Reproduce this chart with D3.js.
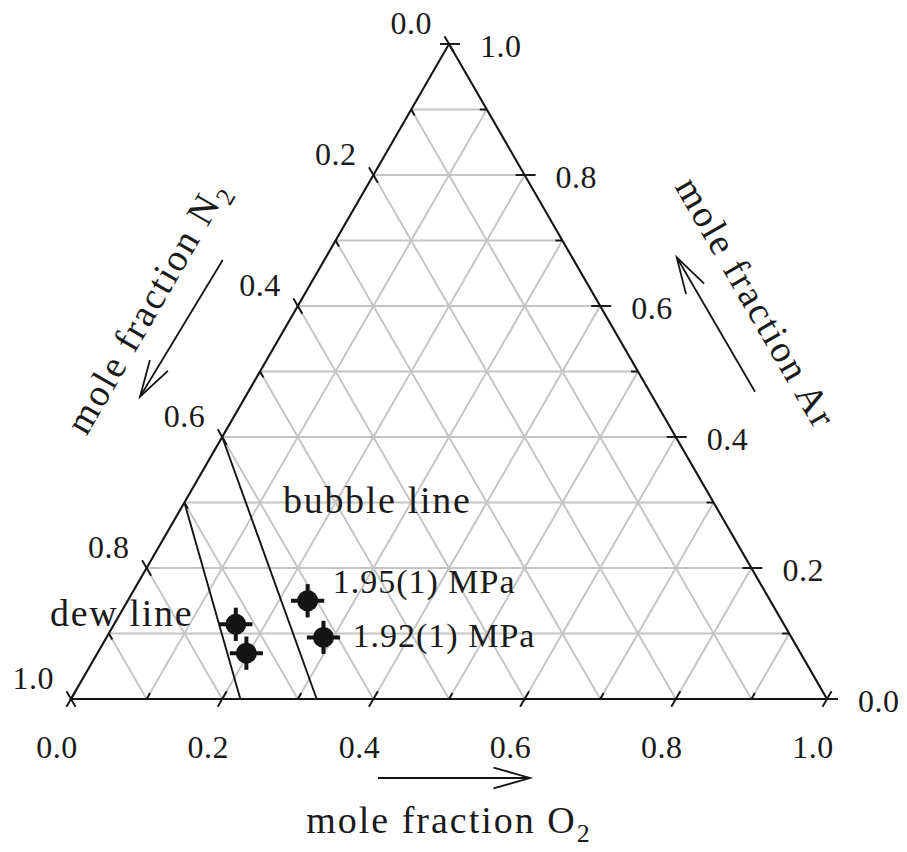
<!DOCTYPE html>
<html>
<head>
<meta charset="utf-8">
<script src="https://cdn.jsdelivr.net/npm/d3@7"></script>
<style>
  html, body { margin: 0; padding: 0; background: #fff; }
  svg text { font-family: "Liberation Serif", "Times New Roman", serif; fill: #1a1a1a; }
</style>
</head>
<body>
<svg id="chart" width="907" height="852"></svg>
<script>
// Tick values along every side of the composition triangle
const majorTicks = [0.0, 0.2, 0.4, 0.6, 0.8, 1.0];
const minorTicks = [0.1, 0.3, 0.5, 0.7, 0.9];
const gridValues = [0.1, 0.2, 0.3, 0.4, 0.5, 0.6, 0.7, 0.8, 0.9];
const tickLabels = ["0.0", "0.2", "0.4", "0.6", "0.8", "1.0"];

// Phase boundaries: O2 and Ar mole fractions at both ends of each line
const dewO2 = [0.0, 0.224];
const dewAr = [0.30, 0.0];
const bubbleO2 = [0.0, 0.325];
const bubbleAr = [0.40, 0.0];

// Measured liquid / vapour compositions with their uncertainty
const pointO2 = [0.161, 0.197, 0.238, 0.287];
const pointAr = [0.114, 0.070, 0.150, 0.094];
const pointErr = [0.022, 0.022, 0.022, 0.022];

// Pressure annotations and the point each one belongs to
const pressureLabels = ["1.95(1) MPa", "1.92(1) MPa"];
const pressurePoint = [2, 3];

const svg = d3.select("#chart");
const W = 907, H = 852;
svg.append("rect").attr("width", W).attr("height", H).attr("fill", "#fff");

// Cartesian scales: x runs along the O2 base, y follows the Ar fraction (height)
const x = d3.scaleLinear().domain([0, 1]).range([71, 827]);
const y = d3.scaleLinear().domain([0, 1]).range([699, 44]);
const SQ = Math.sqrt(3) / 2;

// ternary (O2, Ar) -> screen
const proj = (o2, ar) => [x(o2 + ar / 2), y(ar)];

const line = d3.line();
const ink = "#141414";
const gridColor = "#c4c4c4";

// ---- grid ----
const grid = svg.append("g").attr("fill", "none").attr("stroke", gridColor).attr("stroke-width", 1.9);
gridValues.forEach(v => {
  // constant Ar
  grid.append("path").attr("d", line([proj(0, v), proj(1 - v, v)]));
  // constant O2
  grid.append("path").attr("d", line([proj(v, 0), proj(v, 1 - v)]));
  // constant N2
  grid.append("path").attr("d", line([proj(1 - v, 0), proj(0, 1 - v)]));
});

// ---- dew and bubble lines ----
const bounds = svg.append("g").attr("fill", "none").attr("stroke", ink).attr("stroke-width", 1.9);
bounds.append("path").attr("d", line(dewO2.map((o, i) => proj(o, dewAr[i]))));
bounds.append("path").attr("d", line(bubbleO2.map((o, i) => proj(o, bubbleAr[i]))));

// ---- triangle frame ----
svg.append("path")
  .attr("d", line([proj(0, 0), proj(1, 0), proj(0, 1)]) + "Z")
  .attr("fill", "none").attr("stroke", ink).attr("stroke-width", 2.1)
  .attr("stroke-linejoin", "miter");

// ---- ticks ----
const ticks = svg.append("g").attr("stroke", ink).attr("stroke-width", 1.9);
const dirO2 = [0.5, -SQ];   // along constant-O2 lines, pointing inward from the base
const dirAr = [-1, 0];      // along constant-Ar lines, pointing inward from the right side
const dirN2 = [0.5, SQ];    // along constant-N2 lines, pointing inward from the left side
function tick(p, d, back, fwd) {
  ticks.append("path").attr("d", line([
    [p[0] - d[0] * back, p[1] - d[1] * back],
    [p[0] + d[0] * fwd, p[1] + d[1] * fwd]
  ]));
}
majorTicks.forEach(v => {
  tick(proj(v, 0), dirO2, 9, 9);
  tick(proj(1 - v, v), dirAr, 11, 9);
  tick(proj(0, 1 - v), dirN2, 9, 9);
});
minorTicks.forEach(v => {
  tick(proj(v, 0), dirO2, 0, 7);
  tick(proj(1 - v, v), dirAr, 0, 7);
  tick(proj(0, 1 - v), dirN2, 0, 7);
});

// ---- tick labels ----
const labels = svg.append("g").attr("font-size", 32).attr("letter-spacing", 0.5);
majorTicks.forEach((v, i) => {
  const pb = proj(v, 0);
  labels.append("text").attr("x", pb[0] - 14).attr("y", pb[1] + 59)
    .attr("text-anchor", "middle").text(tickLabels[i]);
  const pr = proj(1 - v, v);
  labels.append("text").attr("x", pr[0] + 31).attr("y", pr[1] + 13)
    .attr("text-anchor", "start").text(tickLabels[i]);
  const pl = proj(0, 1 - v);
  labels.append("text").attr("x", pl[0] - 17).attr("y", pl[1] - 10)
    .attr("text-anchor", "end").text(tickLabels[i]);
});

// ---- data points with error bars ----
const pts = svg.append("g");
pointO2.forEach((o, i) => {
  const [px, py] = proj(o, pointAr[i]);
  const e = pointErr[i];
  const hx0 = x(o + pointAr[i] / 2 - e), hx1 = x(o + pointAr[i] / 2 + e);
  const vy0 = y(pointAr[i] - e / SQ), vy1 = y(pointAr[i] + e / SQ);
  pts.append("path").attr("d", line([[hx0, py], [hx1, py]]))
    .attr("stroke", ink).attr("stroke-width", 4);
  pts.append("path").attr("d", line([[px, vy0], [px, vy1]]))
    .attr("stroke", ink).attr("stroke-width", 4);
  pts.append("circle").attr("cx", px).attr("cy", py).attr("r", 10.5).attr("fill", ink);
});

// ---- annotations ----
const offsets = [[25, -8], [29, 10]];
pressureLabels.forEach((t, k) => {
  const i = pressurePoint[k];
  const [px, py] = proj(pointO2[i], pointAr[i]);
  svg.append("text").attr("x", px + offsets[k][0]).attr("y", py + offsets[k][1])
    .attr("font-size", 34).attr("letter-spacing", 1).text(t);
});
svg.append("text").attr("x", 283).attr("y", 513)
  .attr("font-size", 38).attr("letter-spacing", 1.7).text("bubble line");
svg.append("text").attr("x", 50).attr("y", 626)
  .attr("font-size", 38).attr("letter-spacing", 1.7).text("dew line");

// ---- axis titles ----
function title(tx, ty, rot, main, sub) {
  const t = svg.append("text")
    .attr("transform", `translate(${tx},${ty}) rotate(${rot})`)
    .attr("text-anchor", "middle").attr("font-size", 38).attr("letter-spacing", 2);
  t.append("tspan").text(main);
  if (sub) t.append("tspan").attr("font-size", 26).attr("dy", 9).text(sub);
}
title(449, 833, 0, "mole fraction O", "2");
title(158, 313, -60, "mole fraction N", "2");
title(745, 309, 60, "mole fraction Ar", null);

// ---- direction arrows ----
function arrow(x1, y1, x2, y2) {
  const a = Math.atan2(y1 - y2, x1 - x2);
  const L = 38, s = 16 * Math.PI / 180;
  const g = svg.append("g").attr("stroke", ink).attr("stroke-width", 1.8).attr("fill", "none");
  g.append("path").attr("d", line([[x1, y1], [x2, y2]]));
  g.append("path").attr("d", line([
    [x2 + L * Math.cos(a + s), y2 + L * Math.sin(a + s)],
    [x2, y2],
    [x2 + L * Math.cos(a - s), y2 + L * Math.sin(a - s)]
  ]));
}
arrow(378, 778, 530, 778);
arrow(222.7, 260, 140, 396.7);
arrow(755, 391.7, 676.7, 257.3);
</script>
</body>
</html>
